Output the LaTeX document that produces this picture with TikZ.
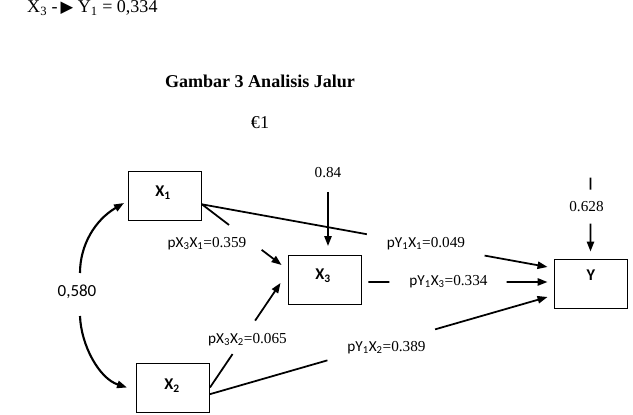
\documentclass[tikz,border=0pt]{standalone}
\usepackage{fontspec}
\setmainfont{Liberation Serif}
\newfontfamily\calib{Carlito}
\newfontfamily\dejavu{DejaVu Sans}
\usetikzlibrary{arrows.meta, calc}

\begin{document}
\begin{tikzpicture}[>={Triangle[length=3mm, width=2.2mm]},
  box/.style={draw, line width=0.8pt, minimum width=2.19cm, minimum height=1.47cm, inner sep=0pt},
  vname/.style={font=\calib\bfseries\fontsize{14}{16}\selectfont, inner sep=1pt},
  coef/.style={font=\fontsize{13}{15}\selectfont, inner sep=1pt},
  conn/.style={line width=1.5pt},
  curv/.style={line width=1.8pt}]

\useasboundingbox (0,0) rectangle (18.99,12.45);

% =====================================================
% Text above the diagram
% =====================================================
\node[font=\fontsize{15.4}{18}\selectfont, anchor=base west, inner sep=0pt] (note) at (0.81,12.07)
  {X\textsubscript{3} -\,{\dejavu\fontsize{14}{16}\selectfont ▶} Y\textsubscript{1} = 0,334};
\node[font=\fontsize{15.4}{18}\selectfont\bfseries, anchor=base, inner sep=0pt] (title) at (7.8,9.81)
  {Gambar 3 Analisis Jalur};
\node[font=\fontsize{15.4}{18}\selectfont, anchor=base, inner sep=0pt] (eps) at (7.8,8.58) {€1};

% =====================================================
% Variables
% =====================================================
\node[box] (x1) at (4.95,6.57) {};
\node[box] (x3) at (9.735,4.05) {};
\node[box] (x2) at (5.19,0.825) {};
\node[box] (y) at (17.715,3.945) {};

\node[vname] (x1t) at (4.89,6.67) {X\textsubscript{1}};
\node[vname] (x3t) at (9.69,4.18) {X\textsubscript{3}};
\node[vname] (x2t) at (5.16,0.88) {X\textsubscript{2}};
\node[vname] (yt) at (17.73,4.2) {Y};

% Coefficients
\node[font=\calib\fontsize{14.5}{17}\selectfont, inner sep=1pt] (r) at (2.31,3.69) {0,580};
\node[coef] (e3) at (9.84,7.26) {0.84};
\node[coef] (e4) at (17.595,6.24) {0.628};
\node[coef] (l31) at (6.21,5.13) {{\calib pX\textsubscript{3}X\textsubscript{1}}=0.359};
\node[coef] (l32) at (7.425,2.265) {{\calib pX\textsubscript{3}X\textsubscript{2}}=0.065};
\node[coef] (ly1) at (12.78,5.13) {{\calib pY\textsubscript{1}X\textsubscript{1}}=0.049};
\node[coef] (ly3) at (13.455,3.99) {{\calib pY\textsubscript{1}X\textsubscript{3}}=0.334};
\node[coef] (ly2) at (11.595,2.01) {{\calib pY\textsubscript{1}X\textsubscript{2}}=0.389};

% Ends of the paths
\coordinate (x1o) at ([yshift=-0.25cm]x1.east);
\coordinate (x2o) at ([yshift=-0.2cm]x2.east);
\coordinate (x3o) at ([shift={(0.21,-0.06)}]x3.east);
\coordinate (x3a) at ([shift={(-0.18,0.45)}]x3.west);
\coordinate (x3b) at ([shift={(-0.21,-0.09)}]x3.west);
\coordinate (ya) at ([shift={(-0.18,0.495)}]y.west);
\coordinate (yb) at ([shift={(-0.18,0.045)}]y.west);
\coordinate (yc) at ([shift={(-0.18,-0.405)}]y.west);
\coordinate (e4t) at ([yshift=2.43cm]y.north);
\coordinate (yn) at ([yshift=0.21cm]y.north);

% =====================================================
% Paths (broken where the coefficient sits)
% =====================================================
% X1 -> X3
\draw[conn] (x1o) -- ($(x1o)!0.34!(x3a)$);
\draw[conn, ->] ($(x1o)!0.75!(x3a)$) -- (x3a);

% X2 -> X3
\draw[conn] (x2.east) -- ($(x2.east)!0.32!(x3b)$);
\draw[conn, ->] ($(x2.east)!0.64!(x3b)$) -- (x3b);

% X1 -> Y
\draw[conn] (x1o) -- ($(x1o)!0.477!(ya)$);
\draw[conn, ->] ($(x1o)!0.818!(ya)$) -- (ya);

% X3 -> Y
\draw[conn] (x3o) -- ($(x3o)!0.117!(yb)$);
\draw[conn, ->] ($(x3o)!0.772!(yb)$) -- (yb);

% X2 -> Y
\draw[conn] (x2o) -- ($(x2o)!0.348!(yc)$);
\draw[conn, ->] ($(x2o)!0.667!(yc)$) -- (yc);

% Residuals
\draw[conn, ->] ([yshift=-0.57cm]e3.center) -- ($(e3.center |- x3.north)+(0,0.27)$);
\draw[conn] (e4t) -- ($(e4t)!0.162!(yn)$);
\draw[conn, ->] ($(e4t)!0.622!(yn)$) -- (yn);

% Correlation X1 <-> X2
\draw[curv, ->] ($(r)+(0.09,0.57)$) .. controls +(0,0.84) and +(-0.87,-0.51) .. ([shift={(-0.12,-0.21)}]x1.west);
\draw[curv, ->] ($(r)+(0.09,-0.72)$) .. controls +(0.03,-0.87) and +(-0.84,0.27) .. ([xshift=-0.27cm]x2.west);

\end{tikzpicture}
\end{document}
